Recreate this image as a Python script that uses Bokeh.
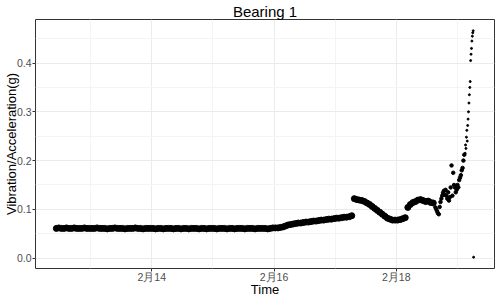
import pandas as pd
from bokeh.plotting import figure
from bokeh.models import ColumnDataSource, Range1d, FixedTicker
from bokeh.embed import file_html
from bokeh.resources import INLINE

# ---- data ----
main_start = "2004-02-12 10:32"   # hourly readings
main_values = [
    # Feb 12 10:32 .. 23:32
    0.061, 0.062, 0.061, 0.061, 0.062, 0.061, 0.061, 0.062, 0.061, 0.061, 0.061, 0.062, 0.061, 0.061,
    # Feb 13
    0.061, 0.061, 0.062, 0.061, 0.061, 0.061, 0.060, 0.061, 0.061, 0.062, 0.061, 0.061,
    0.061, 0.060, 0.061, 0.061, 0.061, 0.062, 0.061, 0.061, 0.060, 0.061, 0.061, 0.061,
    # Feb 14
    0.061, 0.060, 0.061, 0.061, 0.060, 0.061, 0.061, 0.061, 0.060, 0.061, 0.061, 0.060,
    0.061, 0.061, 0.060, 0.061, 0.061, 0.061, 0.060, 0.061, 0.061, 0.060, 0.061, 0.061,
    # Feb 15
    0.061, 0.060, 0.061, 0.061, 0.061, 0.060, 0.061, 0.061, 0.060, 0.061, 0.061, 0.061,
    0.060, 0.061, 0.061, 0.061, 0.060, 0.061, 0.061, 0.061, 0.061, 0.060, 0.061, 0.062,
    # Feb 16
    0.062, 0.062, 0.063, 0.064, 0.066, 0.068, 0.069, 0.070, 0.071, 0.072, 0.072, 0.073,
    0.074, 0.074, 0.075, 0.076, 0.076, 0.077, 0.078, 0.078, 0.079, 0.080, 0.080, 0.081,
    # Feb 17
    0.082, 0.082, 0.083, 0.084, 0.084, 0.085, 0.087, 0.122, 0.120, 0.119, 0.118, 0.116,
    0.113, 0.110, 0.106, 0.102, 0.098, 0.094, 0.090, 0.086, 0.082, 0.080, 0.078, 0.078,
    # Feb 18 00:32 .. 14:32
    0.078, 0.079, 0.081, 0.083, 0.104, 0.110, 0.114, 0.116, 0.119, 0.120, 0.118, 0.116,
    0.117, 0.114, 0.113,
]

late_start = "2004-02-18 15:22"   # every 20 minutes
late_values = [
    0.104, 0.100, 0.096, 0.092, 0.090, 0.105, 0.115, 0.122, 0.128, 0.134, 0.138, 0.130,
    0.140, 0.128, 0.122, 0.135, 0.118, 0.125, 0.145, 0.190, 0.128, 0.175, 0.150, 0.145,
    0.135, 0.140, 0.150, 0.145, 0.160, 0.165, 0.170, 0.180, 0.185, 0.200, 0.212,
]

final_start = "2004-02-19 03:02"  # every 10 minutes
final_values = [
    0.215, 0.232, 0.225, 0.248, 0.262, 0.240, 0.272, 0.285, 0.300, 0.318, 0.335, 0.350,
    0.362, 0.405, 0.418, 0.430, 0.445, 0.455, 0.462, 0.466, 0.002,
]

x_tick_dates = ["2004-02-14", "2004-02-16", "2004-02-18"]
x_tick_labels = ["2月14", "2月16", "2月18"]
x_minor_dates = ["2004-02-13", "2004-02-15", "2004-02-17", "2004-02-19"]
y_ticks = [0.0, 0.1, 0.2, 0.3, 0.4]
y_tick_labels = ["0.0", "0.1", "0.2", "0.3", "0.4"]
y_minor = [0.05, 0.15, 0.25, 0.35, 0.45]
x_title = "Time"
y_title = "Vibration/Acceleration(g)"

# ---- sources ----
main_t = pd.date_range(main_start, periods=len(main_values), freq="h")
late_t = pd.date_range(late_start, periods=len(late_values), freq="20min")
final_t = pd.date_range(final_start, periods=len(final_values), freq="10min")

src_main = ColumnDataSource(dict(t=main_t, v=main_values))
src_late = ColumnDataSource(dict(t=late_t, v=late_values))
src_final = ColumnDataSource(dict(t=final_t, v=final_values))

def ms(ts):
    return pd.Timestamp(ts).value / 1e6

t0 = ms("2004-02-12 10:32:39")
t1 = ms("2004-02-19 06:22:39")
span = t1 - t0
all_v = main_values + late_values + final_values
vmin, vmax = min(all_v), max(all_v)
vspan = vmax - vmin
x_lo, x_hi = t0 - 0.05 * span, t1 + 0.05 * span

p = figure(width=498, height=299, x_axis_type="datetime",
           output_backend="svg", toolbar_location=None, title="Bearing 1",
           x_range=Range1d(x_lo, x_hi),
           y_range=Range1d(vmin - 0.05 * vspan, vmax + 0.05 * vspan))

p.min_border = 0
p.min_border_right = 4
p.min_border_top = 0
p.min_border_bottom = 0
p.background_fill_color = "white"
p.border_fill_color = "white"
p.outline_line_color = "#333333"
p.outline_line_width = 1

p.title.text_font = "Liberation Sans"
p.title.text_font_size = "15px"
p.title.text_font_style = "normal"
p.title.text_color = "black"
p.title.align = "center"
p.title.standoff = 0

xt = FixedTicker(ticks=[ms(d) for d in x_tick_dates], minor_ticks=[ms(d) for d in x_minor_dates])
yt = FixedTicker(ticks=y_ticks, minor_ticks=y_minor)
p.xaxis.ticker = xt
p.yaxis.ticker = yt
p.xgrid.ticker = xt
p.ygrid.ticker = yt
p.xaxis.major_label_overrides = {ms(d): lab for d, lab in zip(x_tick_dates, x_tick_labels)}
p.yaxis.major_label_overrides = {v: lab for v, lab in zip(y_ticks, y_tick_labels)}

for ax in (p.xaxis[0], p.yaxis[0]):
    ax.axis_line_color = None
    ax.major_tick_line_color = "#333333"
    ax.major_tick_in = 0
    ax.major_tick_out = 3
    ax.minor_tick_line_color = None
    ax.major_label_text_font = "Liberation Sans"
    ax.major_label_text_font_size = "10.5px"
    ax.major_label_text_color = "#4D4D4D"
    ax.axis_label_text_font = "Liberation Sans"
    ax.axis_label_text_font_size = "13px"
    ax.axis_label_text_font_style = "normal"
    ax.axis_label_text_color = "black"

p.xaxis.major_label_standoff = -2
p.xaxis.axis_label_standoff = -4
p.xaxis.axis_label = x_title
p.yaxis.major_label_standoff = 0
p.yaxis.axis_label_standoff = -5
p.yaxis.axis_label = y_title

for g in (p.xgrid[0], p.ygrid[0]):
    g.grid_line_color = "#EBEBEB"
    g.grid_line_width = 1
    g.minor_grid_line_color = "#F4F4F4"
    g.minor_grid_line_width = 1

p.scatter(x="t", y="v", source=src_main, size=6, marker="circle", color="black")
p.scatter(x="t", y="v", source=src_late, size=3.5, marker="circle", color="black")
p.scatter(x="t", y="v", source=src_final, size=2, marker="circle", color="black")

open("out.html", "w").write(file_html(p, INLINE))
